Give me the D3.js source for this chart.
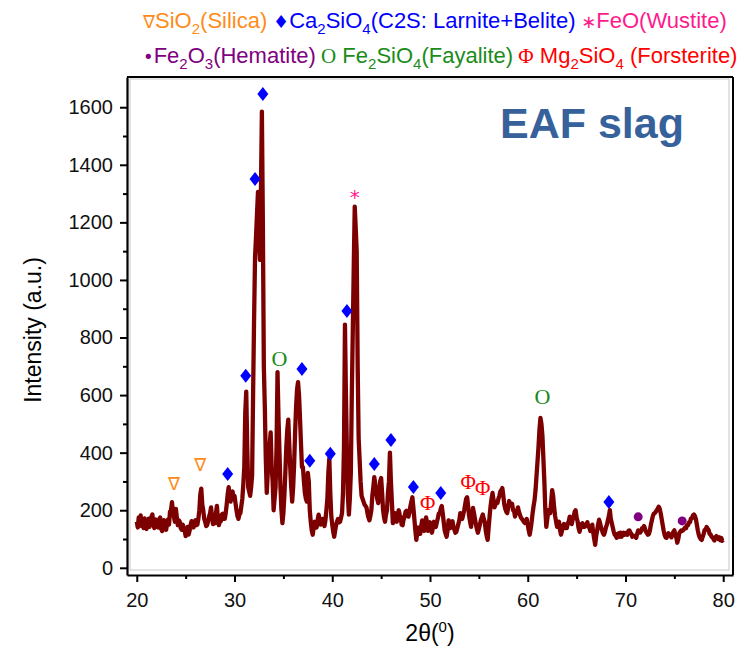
<!DOCTYPE html>
<html>
<head>
<meta charset="utf-8">
<script src="https://cdn.jsdelivr.net/npm/d3@7"></script>
<style>
    body { margin: 0; background: #fff; }
    svg text { font-family: "Liberation Sans", Arial, sans-serif; }
</style>
</head>
<body>
<div id="chart"></div>
<script>
// XRD pattern of EAF slag, [2theta, intensity]
const pattern = [
    [20.0,160],[20.1,140],[20.2,175],[20.3,150],[20.4,182],[20.5,145],[20.6,170],[20.7,138],[20.8,172],[20.9,150],
    [21.0,135],[21.1,165],[21.2,170],[21.3,142],[21.4,160],[21.5,178],[21.6,185],[21.7,148],[21.8,138],[21.9,168],
    [22.0,162],[22.1,145],[22.2,140],[22.3,170],[22.4,175],[22.5,135],[22.6,128],[22.7,158],[22.8,165],[22.9,142],
    [23.0,132],[23.1,152],[23.2,168],[23.3,150],[23.4,195],[23.5,200],[23.6,228],[23.7,195],[23.8,178],[23.9,160],
    [24.0,205],[24.1,175],[24.2,148],[24.3,165],[24.4,160],[24.5,138],[24.6,132],[24.7,150],[24.8,140],[24.9,130],
    [25.0,110],[25.1,128],[25.2,142],[25.3,115],[25.4,128],[25.5,148],[25.6,162],[25.7,145],[25.8,140],[25.9,155],
    [26.0,165],[26.1,148],[26.2,150],[26.3,170],[26.4,200],[26.5,255],[26.6,275],[26.7,220],[26.8,200],[26.9,170],
    [27.0,160],[27.1,145],[27.2,148],[27.3,162],[27.4,178],[27.5,190],[27.6,210],[27.7,175],[27.8,152],[27.9,160],
    [28.0,155],[28.1,190],[28.2,215],[28.3,170],[28.4,148],[28.5,160],[28.6,162],[28.7,185],[28.8,188],[28.9,170],
    [29.0,170],[29.1,190],[29.2,220],[29.3,255],[29.4,280],[29.5,245],[29.6,230],[29.7,250],[29.8,265],[29.9,240],
    [30.0,250],[30.1,225],[30.2,200],[30.3,180],[30.4,170],[30.5,185],[30.6,190],[30.7,215],[30.8,240],[30.9,290],
    [31.0,350],[31.1,540],[31.2,612],[31.3,420],[31.4,280],[31.5,265],[31.6,250],[31.7,280],[31.8,320],[31.9,600],
    [32.0,860],[32.1,1080],[32.2,1150],[32.3,1230],[32.4,1306],[32.5,1150],[32.6,1070],[32.7,1300],[32.8,1585],[32.9,1200],
    [33.0,700],[33.1,560],[33.2,380],[33.3,260],[33.4,330],[33.5,380],[33.6,430],[33.7,470],[33.8,350],[33.9,300],
    [34.0,200],[34.1,240],[34.2,280],[34.3,420],[34.4,680],[34.5,520],[34.6,400],[34.7,280],[34.8,200],[34.9,155],
    [35.0,190],[35.1,250],[35.2,330],[35.3,420],[35.4,480],[35.5,515],[35.6,430],[35.7,350],[35.8,280],[35.9,230],
    [36.0,280],[36.1,360],[36.2,470],[36.3,560],[36.4,620],[36.5,645],[36.6,600],[36.7,520],[36.8,430],[36.9,350],
    [37.0,350],[37.1,300],[37.2,260],[37.3,240],[37.4,230],[37.5,330],[37.6,300],[37.7,200],[37.8,160],[37.9,130],
    [38.0,115],[38.1,140],[38.2,160],[38.3,150],[38.4,140],[38.5,165],[38.6,185],[38.7,170],[38.8,150],[38.9,160],
    [39.0,170],[39.1,155],[39.2,145],[39.3,165],[39.4,200],[39.5,240],[39.6,330],[39.7,380],[39.8,260],[39.9,180],
    [40.0,150],[40.1,125],[40.2,108],[40.3,130],[40.4,150],[40.5,162],[40.6,170],[40.7,158],[40.8,160],[40.9,175],
    [41.0,190],[41.1,260],[41.2,420],[41.3,845],[41.4,600],[41.5,400],[41.6,250],[41.7,185],[41.8,240],[41.9,330],
    [42.0,600],[42.1,820],[42.2,1050],[42.3,1255],[42.4,1180],[42.5,1100],[42.6,700],[42.7,450],[42.8,375],[42.9,300],
    [43.0,250],[43.1,240],[43.2,230],[43.3,220],[43.4,215],[43.5,210],[43.6,190],[43.7,175],[43.8,165],[43.9,180],
    [44.0,200],[44.1,250],[44.2,280],[44.3,315],[44.4,290],[44.5,260],[44.6,240],[44.7,225],[44.8,260],[44.9,300],
    [45.0,312],[45.1,260],[45.2,200],[45.3,175],[45.4,160],[45.5,185],[45.6,200],[45.7,260],[45.8,300],[45.9,400],
    [46.0,300],[46.1,230],[46.2,155],[46.3,170],[46.4,190],[46.5,175],[46.6,160],[46.7,185],[46.8,200],[46.9,185],
    [47.0,172],[47.1,150],[47.2,148],[47.3,168],[47.4,178],[47.5,195],[47.6,198],[47.7,180],[47.8,178],[47.9,192],
    [48.0,215],[48.1,230],[48.2,245],[48.3,210],[48.4,170],[48.5,130],[48.6,97],[48.7,120],[48.8,140],[48.9,130],
    [49.0,118],[49.1,145],[49.2,165],[49.3,148],[49.4,128],[49.5,155],[49.6,175],[49.7,158],[49.8,128],[49.9,148],
    [50.0,158],[50.1,135],[50.2,122],[50.3,140],[50.4,160],[50.5,145],[50.6,142],[50.7,158],[50.8,172],[50.9,188],
    [51.0,190],[51.1,205],[51.2,215],[51.3,190],[51.4,160],[51.5,130],[51.6,118],[51.7,108],[51.8,130],[51.9,165],
    [52.0,158],[52.1,138],[52.2,152],[52.3,162],[52.4,142],[52.5,132],[52.6,122],[52.7,125],[52.8,138],[52.9,152],
    [53.0,165],[53.1,190],[53.2,180],[53.3,170],[53.4,185],[53.5,200],[53.6,220],[53.7,240],[53.8,245],[53.9,215],
    [54.0,180],[54.1,160],[54.2,142],[54.3,175],[54.4,208],[54.5,190],[54.6,170],[54.7,150],[54.8,135],[54.9,122],
    [55.0,135],[55.1,150],[55.2,165],[55.3,175],[55.4,185],[55.5,170],[55.6,160],[55.7,130],[55.8,110],[55.9,97],
    [56.0,140],[56.1,180],[56.2,215],[56.3,240],[56.4,260],[56.5,235],[56.6,210],[56.7,220],[56.8,230],[56.9,225],
    [57.0,240],[57.1,250],[57.2,265],[57.3,270],[57.4,277],[57.5,250],[57.6,220],[57.7,205],[57.8,195],[57.9,190],
    [58.0,210],[58.1,232],[58.2,220],[58.3,218],[58.4,222],[58.5,200],[58.6,198],[58.7,178],[58.8,192],[58.9,198],
    [59.0,210],[59.1,195],[59.2,184],[59.3,175],[59.4,170],[59.5,165],[59.6,160],[59.7,156],[59.8,162],[59.9,170],
    [60.0,150],[60.1,130],[60.2,115],[60.3,135],[60.4,160],[60.5,190],[60.6,215],[60.7,236],[60.8,270],[60.9,320],
    [61.0,370],[61.1,420],[61.2,480],[61.3,521],[61.4,500],[61.5,460],[61.6,380],[61.7,300],[61.8,200],[61.9,142],
    [62.0,170],[62.1,200],[62.2,195],[62.3,190],[62.4,230],[62.5,270],[62.6,250],[62.7,210],[62.8,180],[62.9,160],
    [63.0,142],[63.1,152],[63.2,160],[63.3,132],[63.4,115],[63.5,128],[63.6,142],[63.7,152],[63.8,140],[63.9,138],
    [64.0,138],[64.1,155],[64.2,162],[64.3,178],[64.4,158],[64.5,152],[64.6,168],[64.7,178],[64.8,195],[64.9,200],
    [65.0,175],[65.1,162],[65.2,138],[65.3,125],[65.4,138],[65.5,152],[65.6,155],[65.7,142],[65.8,142],[65.9,150],
    [66.0,150],[66.1,158],[66.2,142],[66.3,142],[66.4,128],[66.5,140],[66.6,150],[66.7,122],[66.8,100],[66.9,80],
    [67.0,110],[67.1,130],[67.2,150],[67.3,167],[67.4,155],[67.5,140],[67.6,130],[67.7,120],[67.8,115],[67.9,125],
    [68.0,140],[68.1,150],[68.2,165],[68.3,180],[68.4,200],[68.5,170],[68.6,155],[68.7,140],[68.8,125],[68.9,115],
    [69.0,112],[69.1,104],[69.2,118],[69.3,120],[69.4,108],[69.5,122],[69.6,108],[69.7,118],[69.8,122],[69.9,115],
    [70.0,118],[70.1,122],[70.2,115],[70.3,128],[70.4,130],[70.5,122],[70.6,118],[70.7,108],[70.8,112],[70.9,110],
    [71.0,110],[71.1,104],[71.2,118],[71.3,130],[71.4,122],[71.5,122],[71.6,128],[71.7,138],[71.8,138],[71.9,145],
    [72.0,135],[72.1,125],[72.2,120],[72.3,115],[72.4,118],[72.5,130],[72.6,150],[72.7,165],[72.8,180],[72.9,188],
    [73.0,190],[73.1,195],[73.2,200],[73.3,205],[73.4,212],[73.5,205],[73.6,190],[73.7,170],[73.8,150],[73.9,130],
    [74.0,115],[74.1,106],[74.2,104],[74.3,115],[74.4,120],[74.5,112],[74.6,110],[74.7,106],[74.8,118],[74.9,125],
    [75.0,130],[75.1,115],[75.2,105],[75.3,87],[75.4,100],[75.5,120],[75.6,125],[75.7,130],[75.8,128],[75.9,130],
    [76.0,135],[76.1,140],[76.2,138],[76.3,148],[76.4,148],[76.5,158],[76.6,158],[76.7,172],[76.8,172],[76.9,182],
    [77.0,185],[77.1,180],[77.2,170],[77.3,150],[77.4,130],[77.5,115],[77.6,105],[77.7,100],[77.8,97],[77.9,108],
    [78.0,118],[78.1,132],[78.2,132],[78.3,142],[78.4,136],[78.5,132],[78.6,118],[78.7,116],[78.8,108],[78.9,106],
    [79.0,100],[79.1,95],[79.2,107],[79.3,110],[79.4,106],[79.5,100],[79.6,106],[79.7,96],[79.8,104],[79.9,94],
    [80.0,97]
];

// phase markers [2theta, intensity] where each symbol sits
const silicaMarks = [[23.8,292],[26.5,358]];
const c2sMarks = [[29.3,326],[31.15,667],[32.1,1351],[32.9,1646],[36.9,691],[37.7,372],[39.8,396],
                  [41.5,892],[44.3,361],[46.0,444],[48.3,281],[51.1,260],[68.3,229]];
const wustiteMarks = [[42.3,1288]];
const hematiteMarks = [[71.3,177],[75.8,163]];
const fayaliteMarks = [[34.6,729],[61.5,597]];
const forsteriteMarks = [[49.75,226],[53.9,299],[55.4,278]];

const xTicks = [20, 30, 40, 50, 60, 70, 80];
const xMinor = [25, 35, 45, 55, 65, 75];
const yTicks = [0, 200, 400, 600, 800, 1000, 1200, 1400, 1600];
const yMinor = [100, 300, 500, 700, 900, 1100, 1300, 1500];

const legendLine1 = [
    { sym: "\u2207", color: "#ff8c1a", parts: [["SiO"], ["2", 1], ["(Silica)"]] },
    { sym: "\u2666", color: "#0000ff", parts: [["Ca"], ["2", 1], ["SiO"], ["4", 1], ["(C2S: Larnite+Belite)"]] },
    { sym: "\u2217", color: "#ff1a8c", parts: [["FeO(Wustite)"]] }
];
const legendLine2 = [
    { sym: "\u2022", color: "#800080", parts: [["Fe"], ["2", 1], ["O"], ["3", 1], ["(Hematite)"]] },
    { sym: "O", serif: true, color: "#1a8c1a", parts: [[" Fe"], ["2", 1], ["SiO"], ["4", 1], ["(Fayalite)"]] },
    { sym: "\u03a6", serif: true, color: "#ff0000", parts: [[" Mg"], ["2", 1], ["SiO"], ["4", 1], [" (Forsterite)"]] }
];

const margin = { top: 77, right: 17, bottom: 74, left: 127 };
const width = 750 - margin.left - margin.right;
const height = 649 - margin.top - margin.bottom;

const svg = d3.select("#chart").append("svg")
    .attr("width", 750)
    .attr("height", 649);

const g = svg.append("g")
    .attr("transform", `translate(${margin.left}, ${margin.top})`);

const x = d3.scaleLinear().domain([19, 81]).range([0, width]);
const y = d3.scaleLinear().domain([-25, 1705]).range([height, 0]);

// faint inner box then the black frame
g.append("rect")
    .attr("x", 3).attr("y", 2)
    .attr("width", width - 7).attr("height", height - 7)
    .attr("fill", "none").attr("stroke", "#c8c8c8").attr("stroke-width", 1);

g.append("line").attr("x1", 0).attr("x2", width).attr("y1", 0).attr("y2", 0)
    .attr("stroke", "#000").attr("stroke-width", 2);
g.append("line").attr("x1", width).attr("x2", width).attr("y1", 0).attr("y2", height)
    .attr("stroke", "#000").attr("stroke-width", 2);

// axes
g.append("g").attr("class", "x-axis")
    .attr("transform", `translate(0, ${height})`)
    .call(d3.axisBottom(x).tickValues(xTicks).tickSize(7).tickSizeOuter(0).tickPadding(11));
g.append("g").attr("transform", `translate(0, ${height})`)
    .call(d3.axisBottom(x).tickValues(xMinor).tickSize(4).tickFormat(""))
    .call(a => a.select(".domain").remove());

g.append("g").attr("class", "y-axis")
    .call(d3.axisLeft(y).tickValues(yTicks).tickFormat(d3.format("d")).tickSize(7).tickSizeOuter(0).tickPadding(7));
g.append("g")
    .call(d3.axisLeft(y).tickValues(yMinor).tickSize(4).tickFormat(""))
    .call(a => a.select(".domain").remove());

svg.selectAll(".x-axis .domain, .y-axis .domain").attr("stroke-width", 2.2);
svg.selectAll(".tick line").attr("stroke-width", 2);
svg.selectAll(".tick text")
    .style("font-family", "'Liberation Sans', Arial, sans-serif")
    .style("font-size", "20px")
    .attr("fill", "#111");

// axis titles
const xTitle = svg.append("text")
    .attr("x", 430).attr("y", 641)
    .attr("text-anchor", "middle")
    .style("font-size", "23px");
xTitle.append("tspan").text("2\u03b8(");
xTitle.append("tspan").attr("dy", -9).style("font-size", "15px").text("0");
xTitle.append("tspan").attr("dy", 9).text(")");

svg.append("text")
    .attr("transform", "translate(41, 330) rotate(-90)")
    .attr("text-anchor", "middle")
    .style("font-size", "23px")
    .text("Intensity (a.u.)");

// the pattern
const line = d3.line()
    .x(d => x(d[0]))
    .y(d => y(d[1]));

g.append("path")
    .datum(pattern)
    .attr("fill", "none")
    .attr("stroke", "#7d0000")
    .attr("stroke-width", 4.3)
    .attr("stroke-linejoin", "round")
    .attr("d", line);

// phase markers
g.selectAll(".c2s")
    .data(c2sMarks)
    .enter().append("path")
    .attr("class", "c2s")
    .attr("d", "M0,-7L5.5,0L0,7L-5.5,0Z")
    .attr("fill", "#0000ff")
    .attr("transform", d => `translate(${x(d[0])}, ${y(d[1])})`);

g.selectAll(".hem")
    .data(hematiteMarks)
    .enter().append("circle")
    .attr("class", "hem")
    .attr("cx", d => x(d[0])).attr("cy", d => y(d[1]))
    .attr("r", 4.5)
    .attr("fill", "#800080");

function textMarks(data, glyph, color, size, serif) {
    g.selectAll(null)
        .data(data)
        .enter().append("text")
        .attr("x", d => x(d[0]))
        .attr("y", d => y(d[1]))
        .attr("dy", "0.36em")
        .attr("text-anchor", "middle")
        .style("font-family", serif ? "'Liberation Serif', 'Times New Roman', serif" : "'DejaVu Sans', sans-serif")
        .style("font-size", size + "px")
        .attr("fill", color)
        .text(glyph);
}
textMarks(silicaMarks, "\u2207", "#ff8c1a", 18, false);
textMarks(wustiteMarks, "*", "#ff1a8c", 20, false);
textMarks(fayaliteMarks, "O", "#1a8c1a", 22, true);
textMarks(forsteriteMarks, "\u03a6", "#ff0000", 21, true);

// sample label
svg.append("text")
    .attr("x", 500).attr("y", 138)
    .style("font-size", "43px")
    .style("font-weight", "bold")
    .attr("fill", "#36619a")
    .text("EAF slag");

// legend, two lines of symbol + formula
function legendLine(yPos, items) {
    const t = svg.append("text")
        .attr("x", 143).attr("y", yPos)
        .style("font-size", "22px");
    items.forEach((it, i) => {
        t.append("tspan")
            .attr("fill", it.color)
            .style("font-family", it.serif ? "'Liberation Serif', serif" : "'DejaVu Sans', sans-serif")
            .style("font-size", it.serif ? "21px" : "18px")
            .text((i ? "\u00a0" : "") + it.sym);
        let low = false;
        it.parts.forEach(([s, sub]) => {
            const sp = t.append("tspan").attr("fill", it.color).text(s);
            if (sub) {
                sp.style("font-size", "15px");
                if (!low) { sp.attr("dy", 6); low = true; }
            } else if (low) {
                sp.attr("dy", -6); low = false;
            }
        });
    });
}
legendLine(28, legendLine1);
legendLine(63, legendLine2);
</script>
</body>
</html>
